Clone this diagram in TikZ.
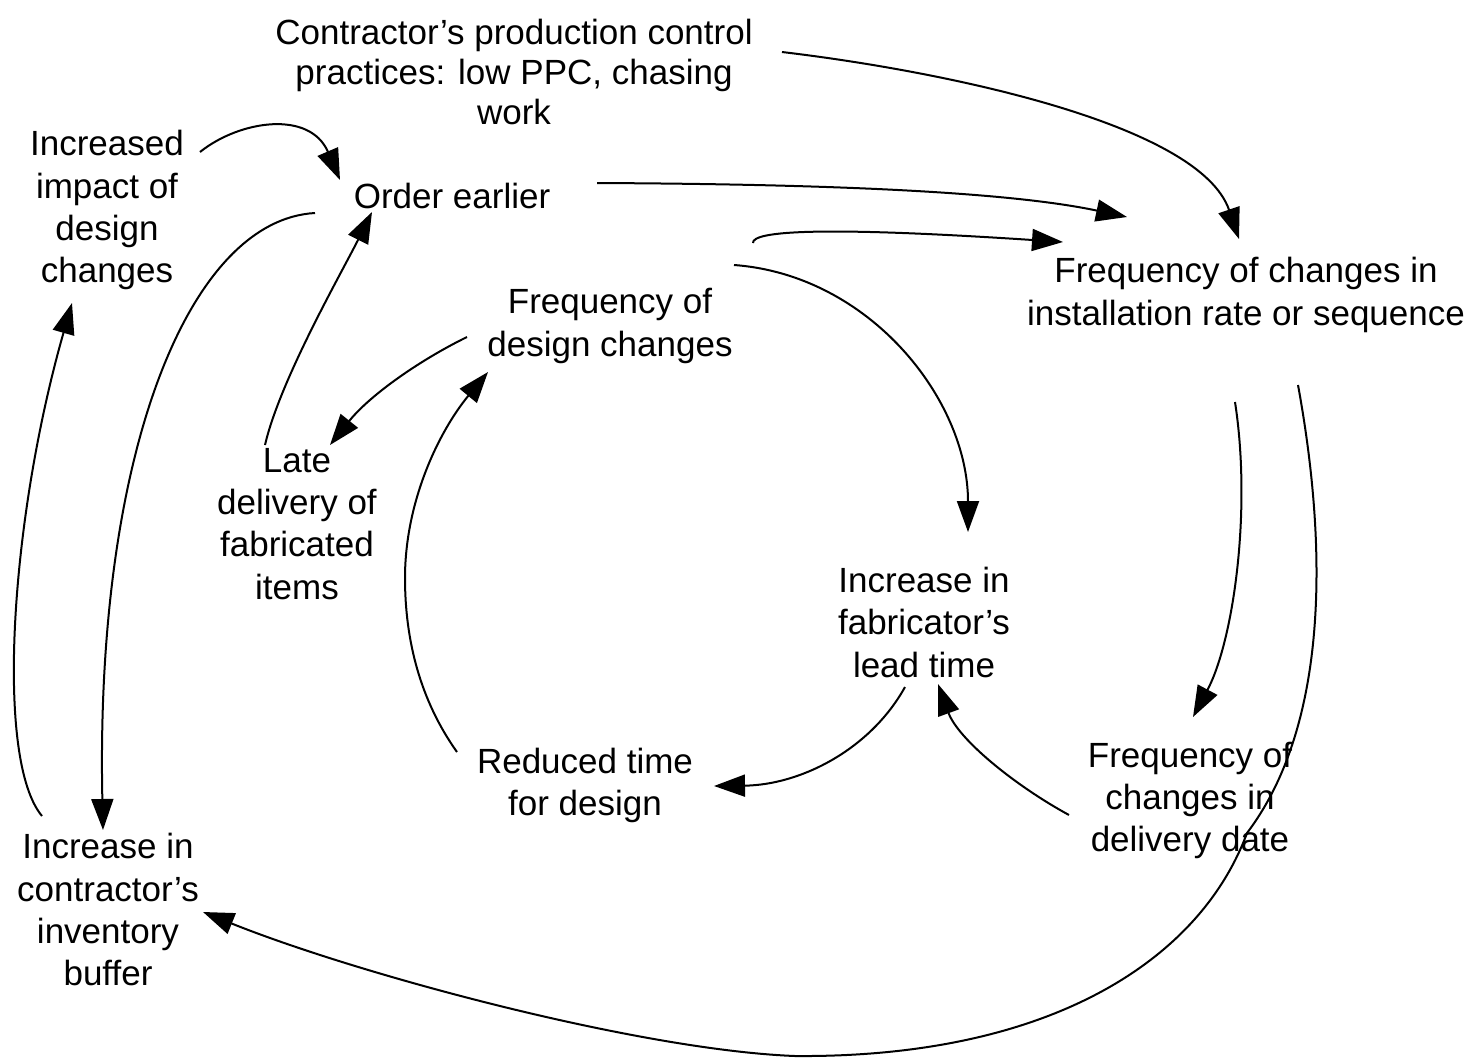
\documentclass[tikz,border=0pt]{standalone}
\usepackage{fontspec}
\setmainfont{Liberation Sans}
\usetikzlibrary{arrows.meta}
\begin{document}
\begin{tikzpicture}[x=1pt,y=-1pt,
  lbl/.style={anchor=north, align=center, inner sep=0pt,
    font=\fontsize{35}{42.3}\selectfont},
  link/.style={line width=2pt, -{Triangle[length=31pt,width=22pt]}}]
\useasboundingbox (0,0) rectangle (1467,1061);

% factors of the causal loop diagram
\node[lbl, font=\fontsize{35}{40}\selectfont] (C) at (514,18.5)
  {Contractor’s production control\\practices: low PPC, chasing\\work};
\node[lbl] (I)   at (107,130.3) {Increased\\impact of\\design\\changes};
\node[lbl] (O)   at (452,183.3) {Order earlier};
\node[lbl] (FD)  at (610,288.3) {Frequency of\\design changes};
\node[lbl] (FI)  at (1246,257.3) {Frequency of changes in\\installation rate or sequence};
\node[lbl] (L)   at (297,448) {Late\\delivery of\\fabricated\\items};
\node[lbl] (IF)  at (924,567) {Increase in\\fabricator’s\\lead time};
\node[lbl] (R)   at (585,747.5) {Reduced time\\for design};
\node[lbl] (FDD) at (1190,741.5) {Frequency of\\changes in\\delivery date};
\node[lbl] (ICI) at (108,833.3) {Increase in\\contractor’s\\inventory\\buffer};

% causal links
\draw[link] ([shift={(93,21.7)}]I.north)
  .. controls +(40,-32) and +(-30,-70) .. ([shift={(-112,-3.3)}]O.north);
\draw[link] ([shift={(268,33.5)}]C.north)
  .. controls +(168,20) and +(-39,-114) .. ([shift={(-7,-18.3)}]FI.north);
\draw[link] ([shift={(145,-0.3)}]O.north)
  .. controls +(203,1) and +(-127,-27) .. ([shift={(-119,-40.3)}]FI.north);
\draw[link] ([shift={(143,-45.3)}]FD.north)
  .. controls +(-1,-12) and +(-243,-16) .. ([shift={(-183,-15.3)}]FI.north);
\draw[link] ([shift={(124,-23.3)}]FD.north)
  .. controls +(136,10) and +(0,-132) .. ([shift={(44,-35)}]IF.north);
\draw[link] ([shift={(-11,144.7)}]FI.north)
  .. controls +(17,110) and +(40,-75) .. ([shift={(3,-24.5)}]FDD.north);
\draw[link] ([shift={(52,127.7)}]FI.north)
  .. controls +(32,175) and +(78,-103) .. (1247,833)
  .. controls +(-47,127) and +(255,2) .. (795,1056)
  .. controls +(-155,-6) and +(157,63) .. ([shift={(95,78.7)}]ICI.north);
\draw[link] ([shift={(-121,73.5)}]FDD.north)
  .. controls +(-55,-30) and +(20,55) .. ([shift={(14,117)}]IF.north);
\draw[link] ([shift={(-19,120)}]IF.north)
  .. controls +(-35,63) and +(86,-1) .. ([shift={(129,38.5)}]R.north);
\draw[link] ([shift={(-128,4.5)}]R.north)
  .. controls +(-37,-52) and +(0,62) .. (405,578)
  .. controls +(0,-78) and +(-48,58) .. ([shift={(-122,83.7)}]FD.north);
\draw[link] ([shift={(-143,48.7)}]FD.north)
  .. controls +(-47,23) and +(40,-50) .. ([shift={(33,-3)}]L.north);
\draw[link] ([shift={(-32,-3)}]L.north)
  .. controls +(15,-65) and +(-30,60) .. ([shift={(-80,28.7)}]O.north);
\draw[link] ([shift={(-137,29.7)}]O.north)
  .. controls +(-125,7) and +(-8,-380) .. ([shift={(-5,-3.3)}]ICI.north);
\draw[link] ([shift={(-66,-17.3)}]ICI.north)
  .. controls +(-47,-56) and +(-62,217) .. ([shift={(-35,172.7)}]I.north);
\end{tikzpicture}
\end{document}
